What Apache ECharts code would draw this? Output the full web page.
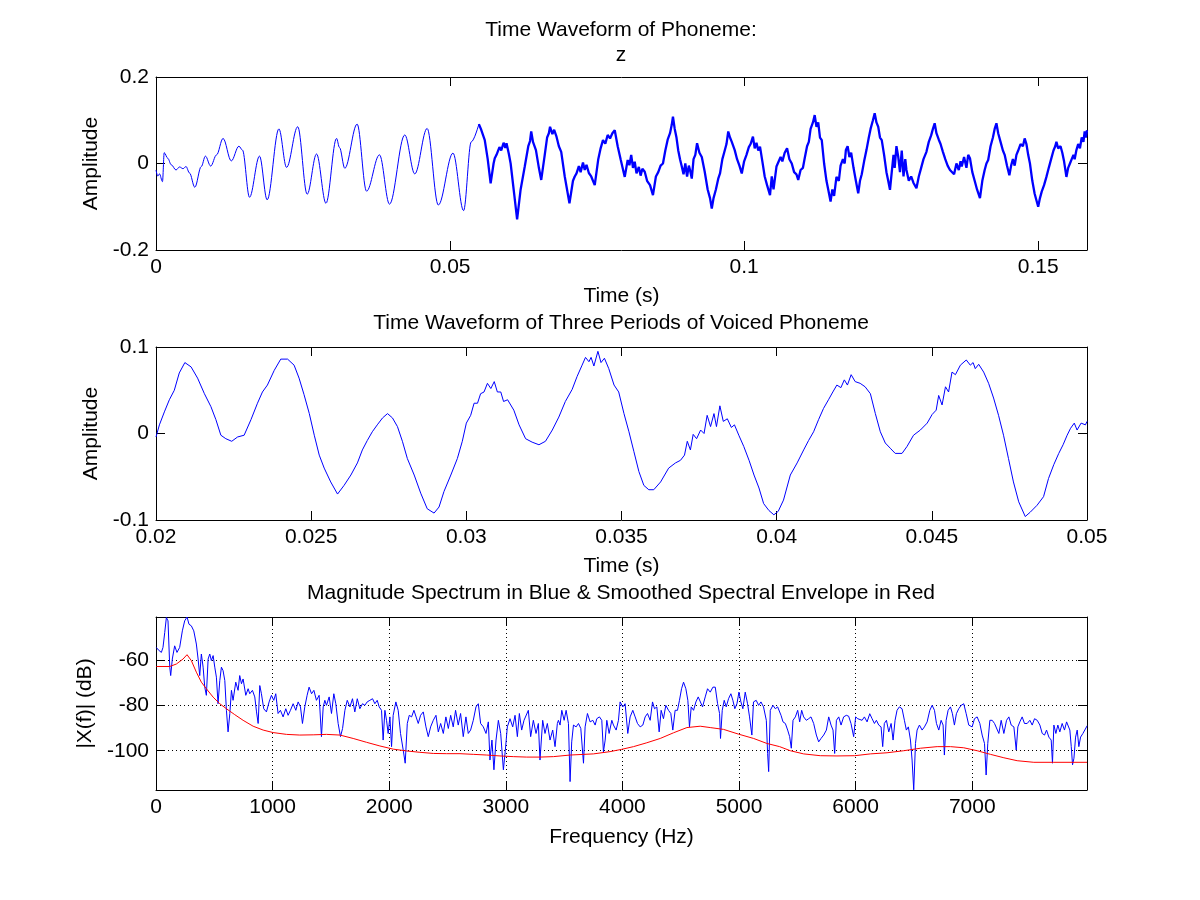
<!DOCTYPE html>
<html>
<head>
<meta charset="UTF-8">
<title>Phoneme z</title>
<script src="https://cdn.jsdelivr.net/npm/echarts@6/dist/echarts.min.js"></script>
<style>
  html, body { margin: 0; padding: 0; background: #fff; }
  #chart { width: 1200px; height: 900px; }
</style>
</head>
<body>
<div id="chart"></div>
<script>
// ---- data ----
// top panel: time (s), amplitude; first part is clean, later part is noisy
var phonemeClean = [
  [0, -0.015], [0.0003, -0.029], [0.0006, -0.024], [0.0011, -0.042], [0.0014, 0.025], [0.0020, 0.012],
  [0.0026, -0.003], [0.0034, -0.015], [0.0040, -0.008], [0.0046, -0.012], [0.0051, -0.007], [0.0057, -0.022],
  [0.0066, -0.055], [0.0077, -0.007], [0.0084, 0.017], [0.0093, -0.006], [0.0103, 0.020], [0.0114, 0.058],
  [0.0128, 0.006], [0.0141, 0.040], [0.0147, 0.031], [0.0159, -0.078], [0.0176, 0.017], [0.0189, -0.084],
  [0.0209, 0.080], [0.0222, -0.009], [0.0241, 0.085], [0.0257, -0.071], [0.0273, 0.022], [0.0289, -0.092],
  [0.0307, 0.058], [0.0312, 0.037], [0.0321, -0.011], [0.0342, 0.091], [0.0358, -0.064], [0.0380, 0.020],
  [0.0397, -0.094], [0.0423, 0.066], [0.0440, -0.024], [0.0461, 0.081], [0.0480, -0.096], [0.0505, 0.024],
  [0.0523, -0.109], [0.0536, 0.050], [0.0549, 0.091]
];
var phonemeNoisy = [
  [0.0549, 0.091], [0.0553, 0.078], [0.0556, 0.082], [0.0559, 0.054], [0.0564, 0.010], [0.0569, -0.046],
  [0.0574, 0.000], [0.0576, 0.012], [0.0579, 0.020], [0.0584, 0.038], [0.0587, 0.030], [0.0591, 0.048],
  [0.0594, 0.036], [0.0596, 0.047], [0.0600, 0.022], [0.0603, 0.000], [0.0609, -0.070], [0.0614, -0.129],
  [0.0620, -0.060], [0.0627, -0.007], [0.0633, 0.040], [0.0636, 0.052], [0.0638, 0.074], [0.0641, 0.050],
  [0.0646, 0.031], [0.0651, -0.010], [0.0655, -0.038], [0.0661, 0.020], [0.0665, 0.060], [0.0668, 0.070],
  [0.0670, 0.085], [0.0674, 0.068], [0.0677, 0.078], [0.0681, 0.062], [0.0685, 0.040], [0.0689, 0.027],
  [0.0695, -0.030], [0.0703, -0.092], [0.0709, -0.040], [0.0712, -0.030], [0.0715, -0.023], [0.0719, -0.006],
  [0.0722, -0.020], [0.0726, 0.002], [0.0729, -0.015], [0.0732, -0.003], [0.0736, -0.022], [0.0740, -0.030],
  [0.0746, -0.050], [0.0752, 0.010], [0.0756, 0.035], [0.0760, 0.054], [0.0764, 0.046], [0.0768, 0.066],
  [0.0772, 0.058], [0.0776, 0.070], [0.0780, 0.077], [0.0785, 0.040], [0.0790, 0.010], [0.0797, -0.031],
  [0.0802, 0.008], [0.0805, -0.004], [0.0808, 0.020], [0.0811, -0.010], [0.0814, 0.004], [0.0817, -0.023],
  [0.0821, -0.008], [0.0824, -0.028], [0.0827, -0.012], [0.0831, -0.019], [0.0835, -0.040], [0.0840, -0.050],
  [0.0845, -0.073], [0.0850, -0.030], [0.0854, -0.020], [0.0858, -0.005], [0.0862, 0.000], [0.0866, 0.030],
  [0.0870, 0.055], [0.0874, 0.070], [0.0877, 0.090], [0.0879, 0.108], [0.0882, 0.080], [0.0885, 0.060],
  [0.0888, 0.030], [0.0891, 0.010], [0.0894, -0.007], [0.0897, -0.025], [0.0900, 0.000], [0.0903, -0.030],
  [0.0906, -0.005], [0.0908, -0.015], [0.0911, -0.035], [0.0914, 0.010], [0.0917, 0.020], [0.0920, 0.047],
  [0.0924, 0.025], [0.0928, 0.015], [0.0933, -0.019], [0.0938, -0.060], [0.0942, -0.080], [0.0945, -0.104],
  [0.0948, -0.080], [0.0952, -0.060], [0.0956, -0.035], [0.0959, -0.023], [0.0963, 0.010], [0.0966, 0.025],
  [0.0970, 0.045], [0.0973, 0.074], [0.0976, 0.060], [0.0979, 0.050], [0.0984, 0.031], [0.0988, 0.010],
  [0.0992, -0.005], [0.0996, -0.023], [0.1000, 0.005], [0.1004, 0.020], [0.1008, 0.038], [0.1011, 0.045],
  [0.1015, 0.062], [0.1018, 0.035], [0.1021, 0.048], [0.1024, 0.030], [0.1027, 0.039], [0.1031, 0.005],
  [0.1035, -0.030], [0.1039, -0.050], [0.1044, -0.073], [0.1047, -0.030], [0.1050, -0.060], [0.1055, -0.007],
  [0.1058, -0.010], [0.1062, 0.015], [0.1065, 0.005], [0.1069, 0.025], [0.1073, 0.035], [0.1077, 0.010],
  [0.1081, 0.000], [0.1085, -0.020], [0.1089, -0.025], [0.1092, -0.038], [0.1096, -0.015], [0.1100, -0.010],
  [0.1103, 0.012], [0.1107, 0.040], [0.1110, 0.050], [0.1113, 0.080], [0.1117, 0.095], [0.1120, 0.112],
  [0.1123, 0.085], [0.1126, 0.095], [0.1129, 0.060], [0.1132, 0.054], [0.1136, 0.000], [0.1140, -0.040],
  [0.1143, -0.060], [0.1147, -0.088], [0.1150, -0.060], [0.1153, -0.075], [0.1157, -0.031], [0.1161, -0.040],
  [0.1164, -0.005], [0.1168, 0.010], [0.1171, 0.000], [0.1173, 0.031], [0.1176, 0.040], [0.1179, 0.015],
  [0.1182, 0.025], [0.1186, -0.010], [0.1190, -0.040], [0.1194, -0.069], [0.1197, -0.040], [0.1200, -0.025],
  [0.1204, 0.005], [0.1208, 0.031], [0.1212, 0.060], [0.1215, 0.080], [0.1219, 0.100], [0.1222, 0.116],
  [0.1225, 0.095], [0.1228, 0.085], [0.1231, 0.060], [0.1234, 0.054], [0.1238, 0.020], [0.1242, -0.020],
  [0.1245, -0.040], [0.1248, -0.061], [0.1251, -0.020], [0.1254, 0.020], [0.1256, -0.010], [0.1259, 0.040],
  [0.1262, 0.016], [0.1265, -0.020], [0.1268, 0.030], [0.1271, -0.030], [0.1274, 0.010], [0.1276, -0.015],
  [0.1280, -0.040], [0.1284, -0.030], [0.1288, -0.045], [0.1293, -0.057], [0.1297, -0.030], [0.1301, -0.010],
  [0.1305, 0.010], [0.1310, 0.027], [0.1314, 0.050], [0.1318, 0.065], [0.1321, 0.080], [0.1324, 0.093],
  [0.1327, 0.070], [0.1331, 0.055], [0.1334, 0.045], [0.1338, 0.027], [0.1342, 0.010], [0.1346, -0.005],
  [0.1350, -0.015], [0.1353, -0.011], [0.1357, -0.025], [0.1361, 0.000], [0.1365, -0.015], [0.1368, 0.005],
  [0.1370, -0.007], [0.1374, 0.015], [0.1378, -0.010], [0.1381, 0.020], [0.1384, 0.012], [0.1388, -0.020],
  [0.1392, -0.040], [0.1396, -0.060], [0.1401, -0.080], [0.1405, -0.040], [0.1409, -0.015], [0.1412, 0.000],
  [0.1415, 0.008], [0.1419, 0.040], [0.1423, 0.060], [0.1426, 0.080], [0.1429, 0.093], [0.1432, 0.070],
  [0.1436, 0.050], [0.1440, 0.030], [0.1443, 0.020], [0.1447, -0.005], [0.1451, -0.027], [0.1454, -0.005],
  [0.1457, 0.010], [0.1460, -0.005], [0.1463, 0.020], [0.1466, 0.030], [0.1470, 0.045], [0.1474, 0.040],
  [0.1477, 0.058], [0.1480, 0.045], [0.1483, 0.020], [0.1486, 0.000], [0.1490, -0.040], [0.1494, -0.070],
  [0.1497, -0.085], [0.1500, -0.100], [0.1503, -0.080], [0.1506, -0.065], [0.1510, -0.050], [0.1514, -0.031],
  [0.1518, -0.010], [0.1522, 0.010], [0.1526, 0.030], [0.1529, 0.040], [0.1531, 0.050], [0.1534, 0.035],
  [0.1538, 0.040], [0.1541, 0.025], [0.1544, 0.005], [0.1548, -0.031], [0.1551, -0.010], [0.1554, 0.000],
  [0.1557, 0.010], [0.1560, 0.020], [0.1562, 0.010], [0.1565, 0.031], [0.1568, 0.045], [0.1571, 0.035],
  [0.1574, 0.060], [0.1577, 0.050], [0.1579, 0.074], [0.1581, 0.060], [0.1583, 0.077]
];

// middle panel: 0.02 .. 0.05 s
var periodsWave = [
  [0.0200, -0.004], [0.02011, 0.010], [0.02027, 0.025], [0.02043, 0.039], [0.02059, 0.050], [0.02075, 0.070],
  [0.02093, 0.082], [0.02113, 0.077], [0.02134, 0.064], [0.02156, 0.046], [0.02177, 0.031], [0.02193, 0.016],
  [0.02209, -0.002], [0.02225, -0.006], [0.02244, -0.009], [0.02263, -0.004], [0.02284, -0.002], [0.02306, 0.016],
  [0.02327, 0.035], [0.02343, 0.048], [0.02359, 0.056], [0.02381, 0.073], [0.02402, 0.086], [0.02424, 0.086],
  [0.02445, 0.079], [0.02461, 0.064], [0.02477, 0.045], [0.02494, 0.023], [0.0251, -0.002], [0.02526, -0.025],
  [0.02542, -0.040], [0.02563, -0.056], [0.02585, -0.070], [0.02606, -0.060], [0.02628, -0.048], [0.02649, -0.034],
  [0.02665, -0.019], [0.02681, -0.008], [0.02697, 0.002], [0.02713, 0.010], [0.0273, 0.018], [0.02746, 0.023],
  [0.02762, 0.018], [0.02778, 0.008], [0.02794, -0.009], [0.0281, -0.029], [0.02832, -0.048], [0.02853, -0.069],
  [0.02874, -0.087], [0.02896, -0.092], [0.02912, -0.085], [0.02928, -0.067], [0.0295, -0.048], [0.02971, -0.029],
  [0.02987, -0.009], [0.0300, 0.012], [0.03014, 0.021], [0.03025, 0.035], [0.03036, 0.035], [0.03046, 0.046],
  [0.03057, 0.048], [0.03068, 0.058], [0.03079, 0.052], [0.0309, 0.060], [0.031, 0.048], [0.03111, 0.048],
  [0.0312, 0.037], [0.03133, 0.039], [0.03153, 0.027], [0.0317, 0.010], [0.03191, -0.006], [0.03212, -0.010],
  [0.03234, -0.013], [0.03255, -0.009], [0.03277, 0.004], [0.03298, 0.019], [0.03319, 0.037], [0.03341, 0.051],
  [0.03357, 0.066], [0.03373, 0.079], [0.03384, 0.088], [0.03395, 0.083], [0.03402, 0.088], [0.03411, 0.078],
  [0.03424, 0.095], [0.03434, 0.082], [0.03445, 0.087], [0.03459, 0.075], [0.03476, 0.056], [0.03491, 0.048],
  [0.03508, 0.023], [0.03524, 0.002], [0.0354, -0.021], [0.03556, -0.044], [0.03572, -0.060], [0.03588, -0.065],
  [0.03604, -0.065], [0.03626, -0.056], [0.03652, -0.040], [0.03674, -0.034], [0.0369, -0.031], [0.03703, -0.025],
  [0.03712, -0.009], [0.03722, -0.019], [0.03731, -0.001], [0.03742, -0.006], [0.03755, 0.004], [0.03766, 0.000],
  [0.03776, 0.021], [0.03787, 0.008], [0.03798, 0.023], [0.03806, 0.008], [0.03817, 0.032], [0.03828, 0.014],
  [0.03841, 0.017], [0.03854, 0.007], [0.03864, 0.010], [0.03878, -0.002], [0.03894, -0.015], [0.03911, -0.031],
  [0.03927, -0.048], [0.03943, -0.063], [0.03958, -0.081], [0.03975, -0.089], [0.03991, -0.094], [0.04005, -0.090],
  [0.04022, -0.077], [0.04044, -0.048], [0.04066, -0.034], [0.04087, -0.019], [0.04103, -0.008], [0.04119, 0.002],
  [0.04135, 0.016], [0.04151, 0.029], [0.04167, 0.039], [0.04181, 0.048], [0.04194, 0.056], [0.04207, 0.053],
  [0.04218, 0.062], [0.04228, 0.056], [0.0424, 0.068], [0.04253, 0.060], [0.04269, 0.058], [0.04285, 0.054],
  [0.04302, 0.046], [0.04318, 0.023], [0.04334, 0.002], [0.0435, -0.011], [0.04366, -0.017], [0.04382, -0.023],
  [0.04404, -0.023], [0.0442, -0.015], [0.04441, -0.002], [0.04463, 0.004], [0.04485, 0.012], [0.04501, 0.022],
  [0.04514, 0.027], [0.04522, 0.044], [0.04533, 0.033], [0.04544, 0.054], [0.04554, 0.048], [0.04565, 0.071],
  [0.04576, 0.068], [0.04592, 0.079], [0.04611, 0.085], [0.04624, 0.079], [0.04633, 0.082], [0.0464, 0.075],
  [0.04651, 0.080], [0.04667, 0.071], [0.04683, 0.058], [0.04699, 0.041], [0.04715, 0.021], [0.04731, -0.002],
  [0.04747, -0.029], [0.04763, -0.056], [0.0478, -0.079], [0.04801, -0.096], [0.04817, -0.091], [0.04839, -0.083],
  [0.0486, -0.073], [0.04876, -0.052], [0.04893, -0.036], [0.04909, -0.023], [0.04923, -0.013], [0.04936, -0.002],
  [0.04947, 0.006], [0.04959, 0.012], [0.04968, 0.004], [0.04981, 0.012], [0.04995, 0.010], [0.0500, 0.014]
];

// bottom panel: frequency (Hz), |X(f)| in dB
var spectrumDb = [
  [3, -54.5], [20, -55.6], [46, -56.7], [60, -54.5], [75, -47.9], [89, -41.3], [103, -42.8], [118, -63.2],
  [126, -66.9], [140, -59.6], [160, -53.8], [180, -56.7], [203, -54.5], [226, -47.2], [246, -42.8], [266, -41.1],
  [283, -44.3], [303, -45.0], [324, -47.2], [346, -53.0], [361, -59.6], [375, -66.9], [389, -57.4], [404, -63.2],
  [418, -72.0], [432, -75.6], [447, -59.6], [461, -57.4], [475, -60.3], [490, -58.1], [504, -63.2], [518, -67.6],
  [532, -79.3], [547, -69.1], [561, -63.2], [575, -64.7], [590, -69.1], [604, -82.2], [618, -91.7], [633, -83.6],
  [647, -73.4], [661, -77.8], [684, -69.8], [704, -73.4], [718, -66.9], [733, -70.5], [747, -68.4], [770, -75.6],
  [790, -72.7], [804, -74.9], [827, -73.4], [847, -76.3], [862, -82.9], [876, -88.0], [890, -71.3], [904, -74.9],
  [924, -81.5], [947, -82.9], [970, -78.5], [990, -75.6], [1010, -77.8], [1027, -74.9], [1047, -83.6], [1067, -82.2],
  [1090, -85.1], [1113, -81.5], [1133, -84.4], [1153, -82.2], [1176, -79.3], [1199, -82.2], [1219, -78.5], [1239, -80.7],
  [1256, -88.0], [1276, -80.7], [1296, -75.6], [1313, -72.0], [1334, -74.9], [1354, -73.4], [1376, -77.8], [1399, -75.6],
  [1419, -93.8], [1434, -80.7], [1448, -77.8], [1462, -80.0], [1485, -76.3], [1505, -83.6], [1525, -74.9], [1542, -79.3],
  [1562, -88.0], [1582, -93.8], [1600, -90.2], [1620, -82.2], [1640, -77.8], [1663, -80.7], [1685, -77.1], [1705, -82.9],
  [1726, -77.1], [1748, -81.5], [1771, -79.3], [1791, -80.0], [1811, -78.5], [1834, -77.8], [1857, -77.1], [1877, -79.3],
  [1897, -77.8], [1914, -80.7], [1934, -82.2], [1948, -95.3], [1963, -82.2], [1977, -86.6], [1991, -92.4], [2006, -85.1],
  [2020, -98.2], [2034, -84.4], [2057, -78.5], [2077, -82.2], [2097, -92.4], [2120, -99.7], [2137, -105.5], [2155, -88.0],
  [2172, -84.4], [2192, -85.1], [2212, -82.2], [2229, -81.5], [2249, -88.0], [2269, -84.4], [2292, -82.9], [2315, -89.5],
  [2335, -93.8], [2355, -89.5], [2378, -86.6], [2401, -84.4], [2421, -91.7], [2441, -88.0], [2464, -92.4], [2486, -85.1],
  [2507, -90.2], [2527, -84.4], [2549, -89.5], [2569, -82.2], [2592, -88.7], [2612, -83.6], [2635, -93.8], [2658, -85.1],
  [2678, -92.4], [2698, -90.9], [2721, -86.6], [2744, -80.7], [2764, -79.3], [2784, -88.0], [2807, -89.5], [2830, -92.4],
  [2850, -87.3], [2864, -104.1], [2881, -95.3], [2898, -108.4], [2916, -95.3], [2936, -86.6], [2956, -92.4], [2979, -108.4],
  [2996, -99.7], [3013, -89.5], [3036, -85.9], [3059, -89.5], [3079, -84.4], [3099, -93.8], [3116, -83.6], [3136, -90.9],
  [3156, -86.6], [3173, -85.9], [3193, -82.2], [3213, -93.8], [3236, -86.6], [3259, -92.4], [3279, -88.0], [3293, -104.1],
  [3316, -86.6], [3336, -92.4], [3356, -88.0], [3379, -95.3], [3402, -90.9], [3422, -98.2], [3442, -88.0], [3451, -86.6],
  [3465, -88.7], [3480, -82.2], [3500, -86.6], [3517, -82.2], [3537, -88.0], [3551, -113.6], [3565, -96.1], [3580, -88.7],
  [3603, -89.5], [3623, -88.0], [3643, -90.2], [3666, -105.5], [3680, -89.5], [3700, -83.6], [3723, -87.3], [3746, -86.6],
  [3766, -88.7], [3780, -85.9], [3803, -85.1], [3823, -86.6], [3837, -100.5], [3852, -95.3], [3866, -86.6], [3886, -92.4],
  [3909, -86.6], [3923, -88.7], [3946, -90.9], [3966, -86.6], [3980, -78.5], [4003, -80.7], [4023, -79.3], [4046, -92.4],
  [4066, -85.1], [4089, -82.2], [4109, -85.1], [4129, -88.0], [4152, -89.5], [4175, -88.7], [4195, -85.1], [4215, -83.6],
  [4238, -86.6], [4258, -78.5], [4275, -81.5], [4295, -80.7], [4315, -91.7], [4332, -82.2], [4352, -85.9], [4372, -80.0],
  [4395, -82.2], [4415, -83.6], [4432, -90.9], [4452, -82.2], [4472, -82.2], [4489, -77.8], [4507, -72.7], [4524, -69.8],
  [4544, -72.7], [4561, -77.8], [4575, -89.5], [4590, -80.7], [4610, -82.2], [4630, -78.5], [4650, -76.3], [4667, -76.1],
  [4687, -80.7], [4710, -76.3], [4730, -72.7], [4753, -74.2], [4776, -72.0], [4796, -72.0], [4816, -79.3], [4833, -83.6],
  [4841, -94.6], [4856, -82.2], [4873, -77.8], [4890, -80.7], [4910, -77.1], [4930, -74.9], [4947, -77.8], [4964, -81.5],
  [4982, -79.3], [4999, -74.2], [5016, -78.5], [5033, -81.5], [5053, -74.2], [5073, -79.3], [5090, -85.1], [5110, -93.1],
  [5124, -78.5], [5147, -77.8], [5168, -80.0], [5188, -78.5], [5210, -80.7], [5234, -86.6], [5245, -101.2], [5254, -109.2],
  [5268, -82.2], [5291, -80.0], [5311, -81.5], [5331, -80.7], [5360, -84.4], [5377, -87.3], [5397, -88.0], [5417, -90.9],
  [5434, -93.8], [5448, -98.9], [5463, -86.6], [5483, -85.1], [5503, -82.2], [5520, -87.3], [5537, -82.2], [5554, -85.1],
  [5577, -86.6], [5597, -85.9], [5617, -85.1], [5640, -88.0], [5663, -93.1], [5683, -96.1], [5703, -94.6], [5726, -93.1],
  [5749, -90.9], [5769, -85.1], [5789, -88.7], [5806, -90.9], [5820, -101.2], [5835, -86.6], [5855, -85.1], [5875, -88.7],
  [5897, -85.1], [5920, -84.4], [5940, -84.8], [5960, -88.0], [5983, -93.8], [6000, -85.1], [6018, -85.9], [6035, -85.1],
  [6055, -86.6], [6075, -85.1], [6098, -87.3], [6121, -83.7], [6141, -85.9], [6161, -88.0], [6178, -86.6], [6198, -88.7],
  [6218, -89.5], [6232, -98.2], [6246, -88.0], [6264, -86.6], [6284, -91.7], [6304, -88.0], [6321, -95.3], [6338, -86.6],
  [6355, -82.2], [6375, -80.7], [6398, -81.5], [6418, -86.6], [6435, -90.9], [6452, -89.5], [6470, -95.3], [6484, -104.1],
  [6498, -117.2], [6513, -96.8], [6527, -90.9], [6547, -88.7], [6570, -90.9], [6590, -89.5], [6613, -87.3], [6636, -82.2],
  [6656, -80.0], [6676, -82.2], [6693, -88.0], [6713, -90.9], [6733, -86.6], [6750, -88.7], [6761, -101.9], [6776, -86.6],
  [6793, -82.2], [6813, -80.7], [6830, -83.7], [6847, -88.7], [6864, -83.7], [6884, -81.5], [6905, -80.0], [6927, -79.3],
  [6948, -83.7], [6970, -88.7], [6985, -88.7], [6999, -89.5], [7019, -85.9], [7042, -85.1], [7065, -88.0], [7085, -93.1],
  [7105, -96.8], [7119, -110.7], [7133, -96.8], [7151, -86.6], [7171, -86.6], [7191, -88.0], [7208, -87.3], [7228, -92.4],
  [7248, -86.6], [7271, -92.4], [7294, -86.6], [7314, -85.1], [7334, -88.7], [7357, -89.5], [7377, -99.7], [7391, -89.5],
  [7408, -87.3], [7428, -85.1], [7448, -88.0], [7471, -88.0], [7494, -86.6], [7514, -88.7], [7534, -85.9], [7557, -86.6],
  [7580, -88.7], [7600, -92.4], [7620, -93.1], [7637, -90.9], [7657, -94.0], [7677, -95.3], [7688, -105.5], [7700, -88.7],
  [7717, -92.4], [7734, -88.7], [7751, -91.7], [7771, -88.0], [7791, -90.9], [7809, -87.3], [7823, -86.6], [7837, -90.9],
  [7849, -98.2], [7860, -106.2], [7872, -103.3], [7886, -94.0], [7900, -90.9], [7914, -98.2], [7929, -94.0], [7949, -92.4],
  [7963, -93.1], [7980, -89.5], [7984, -89.0]
];
var envelopeDb = [
  [3, -62.9], [118, -62.9], [175, -61.8], [232, -59.6], [266, -57.7], [303, -60.3], [346, -65.4], [389, -69.8],
  [432, -72.7], [490, -76.4], [547, -79.3], [604, -81.5], [675, -84.1], [747, -86.6], [833, -89.2], [919, -90.9],
  [1004, -92.0], [1119, -92.8], [1233, -93.1], [1348, -93.0], [1462, -92.8], [1577, -93.1], [1691, -94.6], [1806, -96.3],
  [1920, -97.9], [2034, -99.3], [2149, -100.1], [2263, -100.7], [2378, -101.2], [2492, -101.3], [2607, -101.3], [2721, -101.6],
  [2836, -101.9], [2950, -102.3], [3064, -102.6], [3179, -102.8], [3293, -102.8], [3408, -102.6], [3551, -101.9], [3751, -101.4],
  [3894, -100.4], [3992, -99.4], [4095, -98.2], [4209, -96.5], [4324, -94.6], [4438, -92.1], [4553, -89.8], [4667, -89.2],
  [4753, -89.8], [4867, -90.6], [4996, -92.7], [5125, -94.6], [5239, -96.8], [5348, -98.2], [5440, -100.0], [5554, -101.4],
  [5697, -102.2], [5840, -102.3], [5992, -102.2], [6126, -101.4], [6269, -100.9], [6412, -100.0], [6556, -98.9], [6699, -98.2],
  [6813, -98.2], [6927, -98.7], [7042, -100.0], [7156, -101.6], [7271, -103.1], [7385, -104.4], [7528, -105.1], [7700, -105.1],
  [7984, -105.1]
];

var FONT = '"Liberation Sans", Arial, sans-serif';

var myChart = echarts.init(document.getElementById('chart'), null, { renderer: 'canvas' });

var grids = [
  { left: 156, right: 113, top: 77, height: 173 },
  { left: 156, right: 113, top: 347, height: 173 },
  { left: 156, right: 113, top: 617, height: 173 }
];

// main axis (labels) + mirror axis (ticks only) on the other side, MATLAB box style
function axisPair(dim, gi, min, max, interval, extra) {
  var main = {
    type: 'value', gridIndex: gi, min: min, max: max,
    position: dim === 'x' ? 'bottom' : 'left',
    axisLine: { show: true, onZero: false, lineStyle: { color: '#000', width: 1 } },
    axisTick: { show: true, inside: true, length: 9, lineStyle: { color: '#000' } },
    axisLabel: { show: true, margin: 7, fontFamily: FONT, fontSize: 21, color: '#000' },
    splitLine: { show: false }
  };
  if (interval != null) main.interval = interval;
  for (var k in extra) main[k] = extra[k];
  var mirror = {
    type: 'value', gridIndex: gi, min: min, max: max,
    position: dim === 'x' ? 'top' : 'right',
    axisLine: { show: true, onZero: false, lineStyle: { color: '#000', width: 1 } },
    axisTick: { show: true, inside: true, length: 9, lineStyle: { color: '#000' } },
    axisLabel: { show: false },
    splitLine: { show: false }
  };
  if (interval != null) mirror.interval = interval;
  if (extra && extra.splitNumber) mirror.splitNumber = extra.splitNumber;
  return [main, mirror];
}

var nameStyle = { fontFamily: FONT, fontSize: 21, color: '#000' };
var dotted = { show: true, lineStyle: { color: '#000', type: [1, 3], width: 1 } };

var x1 = axisPair('x', 0, 0, 0.1583, 0.05, {
  name: 'Time (s)', nameLocation: 'middle', nameGap: 36, nameTextStyle: nameStyle
});
x1[0].axisLabel.showMaxLabel = false;
var y1 = axisPair('y', 0, -0.2, 0.2, 0.2, {
  name: 'Amplitude', nameLocation: 'middle', nameGap: 50, nameTextStyle: nameStyle
});
var x2 = axisPair('x', 1, 0.02, 0.05, 0.005, {
  name: 'Time (s)', nameLocation: 'middle', nameGap: 36, nameTextStyle: nameStyle
});
var y2 = axisPair('y', 1, -0.1, 0.1, 0.1, {
  name: 'Amplitude', nameLocation: 'middle', nameGap: 50, nameTextStyle: nameStyle
});
var x3 = axisPair('x', 2, 0, 7984, 1000, {
  name: 'Frequency (Hz)', nameLocation: 'middle', nameGap: 37, nameTextStyle: nameStyle,
  splitLine: dotted
});
x3[0].axisLabel.showMaxLabel = false;
x3[0].axisLabel.formatter = function (v) { return String(v); };
var y3 = axisPair('y', 2, -117.3, -41.1, null, {
  name: '|X(f)| (dB)', nameLocation: 'middle', nameGap: 56, nameTextStyle: nameStyle,
  splitNumber: 4, splitLine: dotted
});
y3[0].axisLabel.formatter = function (v) { return (Math.round(v) % 20 === 0 && Math.abs(v - Math.round(v)) < 1e-6) ? String(v) : ''; };

var titleText = { fontFamily: FONT, fontSize: 21, fontWeight: 'normal', color: '#000', lineHeight: 25 };

var option = {
  animation: false,
  backgroundColor: '#fff',
  title: [
    { text: 'Time Waveform of Phoneme:\nz', left: 621, top: 18, textAlign: 'center', padding: 0, textStyle: titleText },
    { text: 'Time Waveform of Three Periods of Voiced Phoneme', left: 621, top: 311, textAlign: 'center', padding: 0, textStyle: titleText },
    { text: 'Magnitude Spectrum in Blue & Smoothed Spectral Envelope in Red', left: 621, top: 581, textAlign: 'center', padding: 0, textStyle: titleText }
  ],
  grid: grids,
  xAxis: [x1[0], x1[1], x2[0], x2[1], x3[0], x3[1]],
  yAxis: [y1[0], y1[1], y2[0], y2[1], y3[0], y3[1]],
  series: [
    { type: 'line', xAxisIndex: 0, yAxisIndex: 0, data: phonemeClean, showSymbol: false, smooth: 0.35,
      smoothMonotone: 'x', lineStyle: { color: '#0000ff', width: 1 } },
    { type: 'line', xAxisIndex: 0, yAxisIndex: 0, data: phonemeNoisy, showSymbol: false,
      lineStyle: { color: '#0000ff', width: 2.3 } },
    { type: 'line', xAxisIndex: 2, yAxisIndex: 2, data: periodsWave, showSymbol: false,
      lineStyle: { color: '#0000ff', width: 1 } },
    { type: 'line', xAxisIndex: 4, yAxisIndex: 4, data: spectrumDb, showSymbol: false,
      lineStyle: { color: '#0000ff', width: 1 } },
    { type: 'line', xAxisIndex: 4, yAxisIndex: 4, data: envelopeDb, showSymbol: false,
      lineStyle: { color: '#ff0000', width: 1 } }
  ]
};
myChart.setOption(option);
</script>
</body>
</html>
